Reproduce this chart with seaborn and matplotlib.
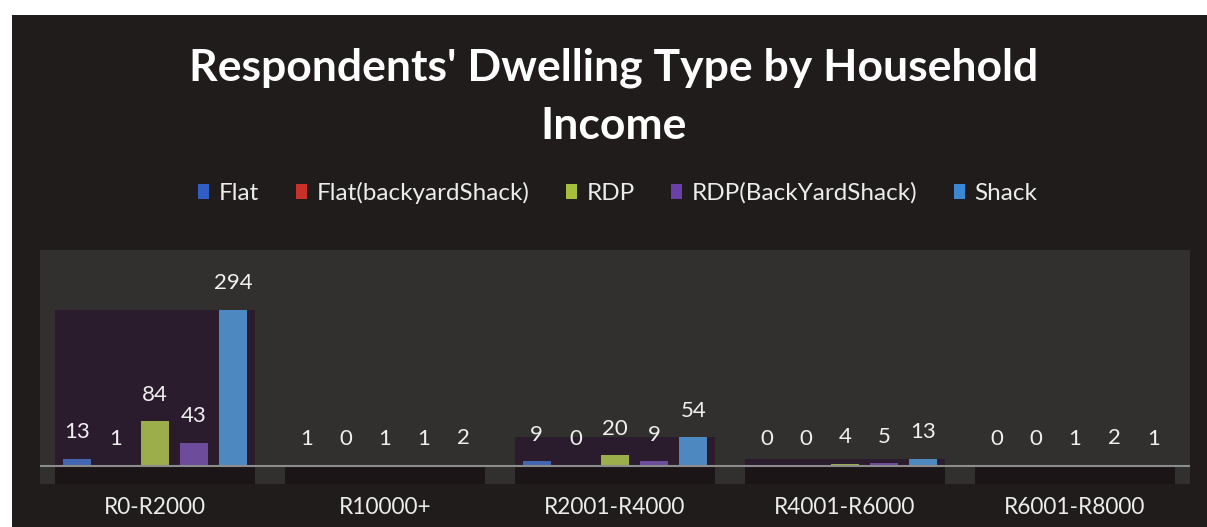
import matplotlib
matplotlib.use("Agg")
import matplotlib.pyplot as plt
import seaborn as sns
import pandas as pd
from matplotlib.patches import Rectangle

# Data
income_bands = ["R0-R2000", "R10000+", "R2001-R4000", "R4001-R6000", "R6001-R8000"]
dwelling_types = ["Flat", "Flat(backyardShack)", "RDP", "RDP(BackYardShack)", "Shack"]
flat = [13, 1, 9, 0, 0]
flat_backyard = [1, 0, 0, 0, 0]
rdp = [84, 1, 20, 4, 1]
rdp_backyard = [43, 1, 9, 5, 2]
shack = [294, 2, 54, 13, 1]

colors = {
    "Flat": "#2f5fc4",
    "Flat(backyardShack)": "#c8302c",
    "RDP": "#a5bf3a",
    "RDP(BackYardShack)": "#6a3fa8",
    "Shack": "#3a88d4",
}

series = [flat, flat_backyard, rdp, rdp_backyard, shack]
rows = []
for name, vals in zip(dwelling_types, series):
    for band, v in zip(income_bands, vals):
        rows.append({"Income": band, "Dwelling": name, "Count": v})
df = pd.DataFrame(rows)

plt.rcParams["font.family"] = ["Lato", "DejaVu Sans"]

fig = plt.figure(figsize=(12.07, 5.27), dpi=100, facecolor="white")
# dark slide background (photo has a white strip on top and left)
fig.patches.append(Rectangle((12 / 1207, 0), 1, 1 - 15 / 527, transform=fig.transFigure,
                             facecolor="#1f1c1b", edgecolor="none", zorder=-5))

ax = fig.add_axes([40 / 1207, 43 / 527, 1150 / 1207, 234 / 527])
ax.set_zorder(2)
ax.set_facecolor("#31302e")

# group "back wall" and floor shadows, sized from the group maximum
group_max = [max(col) for col in zip(*series)]
ax.bar(range(len(income_bands)), group_max, width=0.87, color="#2a1c2c", zorder=1)
ax.bar(range(len(income_bands)), [-34] * len(income_bands), width=0.87,
       color="#1b1517", zorder=1)

sns.barplot(data=df, x="Income", y="Count", hue="Dwelling",
            order=income_bands, hue_order=dwelling_types, palette=colors,
            width=0.85, gap=0.28, ax=ax, legend=False, zorder=3,
            edgecolor="none")

for cont in ax.containers[2:]:
    ax.bar_label(cont, padding=12, color="#f0f0f0", fontsize=16)

ax.axhline(0, color="#8c8c8c", linewidth=1.5, zorder=4)
ax.set_xlim(-0.5, 4.5)
ax.set_ylim(-34, 407)
ax.set_xlabel("")
ax.set_ylabel("")
ax.set_yticks([])
ax.tick_params(axis="x", length=0, pad=9, labelsize=16.3, labelcolor="#ececec")
for s in ax.spines.values():
    s.set_visible(False)

fig.text(614 / 1207, 1 - 97 / 527, "Respondents' Dwelling Type by Household\nIncome",
         ha="center", va="center", fontsize=32, fontweight="bold", color="white",
         linespacing=1.55)

handles = [Rectangle((0, 0), 1, 1, facecolor=colors[d]) for d in dwelling_types]
fig.legend(handles, dwelling_types, loc="center", bbox_to_anchor=(618 / 1207, 1 - 193 / 527),
           ncol=5, frameon=False, fontsize=17.5, labelcolor="#ececec",
           handlelength=0.45, handleheight=0.6, handletextpad=0.4, columnspacing=1.5)

fig.savefig("out.png", dpi=100, facecolor=fig.get_facecolor())
